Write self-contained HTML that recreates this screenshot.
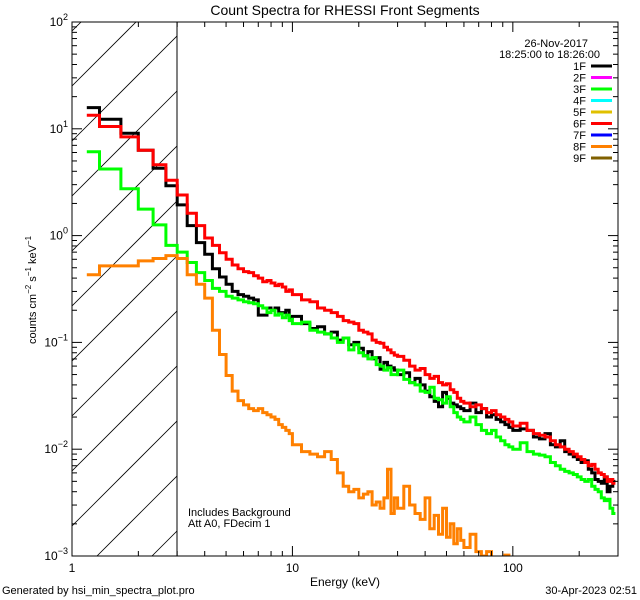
<!DOCTYPE html>
<html><head><meta charset="utf-8"><style>
body{margin:0;background:#fff;overflow:hidden;}
svg{display:block;font-family:"Liberation Sans",sans-serif;}
</style></head><body>
<svg id="chart" width="640" height="600" viewBox="0 0 640 600">
<defs><clipPath id="pc"><rect x="72" y="22" width="546" height="534"/></clipPath></defs>
<rect width="640" height="600" fill="#fff"/>
<text x="345" y="15" text-anchor="middle" font-size="14">Count Spectra for RHESSI Front Segments</text>
<g id="hatch" clip-path="url(#pc)"></g>
<line x1="177" y1="22" x2="177" y2="556" stroke="#000" stroke-width="1"/>
<g id="series" clip-path="url(#pc)"></g>
<g id="axes"></g>
<text x="588" y="47" text-anchor="end" font-size="11">26-Nov-2017</text>
<text x="600" y="58" text-anchor="end" font-size="11">18:25:00 to 18:26:00</text>
<g id="legend"></g>
<text x="188" y="516" font-size="11">Includes Background</text>
<text x="188" y="527" font-size="11">Att A0, FDecim 1</text>
<text x="345" y="586" text-anchor="middle" font-size="12">Energy (keV)</text>
<text transform="translate(36,290) rotate(-90)" text-anchor="middle" font-size="11">counts cm<tspan font-size="8" dy="-5">−2</tspan><tspan dy="5"> s</tspan><tspan font-size="8" dy="-5">−1</tspan><tspan dy="5"> keV</tspan><tspan font-size="8" dy="-5">−1</tspan></text>
<text x="2" y="594" font-size="11">Generated by hsi_min_spectra_plot.pro</text>
<text x="637" y="594" text-anchor="end" font-size="11">30-Apr-2023 02:51</text>
</svg>
<script>
const binSegments = [[1.1667,1.3333,0.1667],[1.3333,10,0.3333],[10,30,1],[30,60,2],[60,100,4],[100,300,8]];
const seriesNames = ["1F","2F","3F","4F","5F","6F","7F","8F","9F"];
const seriesColors = ["#000000","#ff00ff","#00ff00","#00ffff","#e0c000","#ff0000","#0000ff","#ff8000","#806000"];
const yTickLabels = ["-3","-2","-1","0","1","2"];
const xTickLabels = ["1","10","100"];
const counts1F = [15.8,12.3,9.1,6.3,4.27,2.93,1.94,1.24,0.86,0.67,0.49,0.41,0.35,0.30,0.28,
0.27,0.26,0.25,0.18,0.18,0.21,0.2,0.21,0.19,0.19,0.2,0.17,
0.17,0.175,0.15,0.135,0.14,0.12,0.125,0.105,0.11,0.095,0.1,0.088,0.075,0.082,0.07,0.072,0.056,0.065,0.06,0.058,
0.055,0.05,0.052,0.042,0.046,0.04,0.035,0.031,0.028,0.025,0.034,0.03,0.027,0.026,0.025,
0.024,0.023,0.027,0.022,0.024,0.02,0.021,0.019,0.018,0.017,
0.016,0.015,0.0155,0.015,0.013,0.0125,0.014,0.011,0.0105,0.012,0.0095,0.009,0.0085,0.008,0.0075,0.0078,0.0065,0.006,0.0052,0.005,0.0048,0.0055,0.004,0.0045,0.005];
const counts6F = [13.4,10.5,8.4,6.3,4.6,3.3,2.4,1.62,1.24,0.95,0.81,0.69,0.6,0.53,0.49,
0.46,0.45,0.42,0.4,0.37,0.38,0.36,0.34,0.35,0.33,0.3,0.31,
0.3,0.28,0.25,0.24,0.21,0.2,0.19,0.175,0.16,0.155,0.15,0.13,0.125,0.12,0.105,0.1,0.098,0.09,0.085,0.08,
0.076,0.074,0.068,0.06,0.055,0.057,0.05,0.046,0.048,0.042,0.04,0.041,0.036,0.034,0.03,
0.028,0.027,0.025,0.026,0.024,0.022,0.023,0.021,0.02,0.019,
0.018,0.0165,0.0175,0.015,0.014,0.0135,0.013,0.012,0.011,0.0105,0.01,0.0095,0.009,0.0085,0.008,0.0075,0.007,0.0072,0.0065,0.006,0.0058,0.0055,0.005,0.0052,0.0048];
const counts3F = [6.1,4.2,2.75,1.77,1.26,0.81,0.70,0.56,0.45,0.38,0.32,0.30,0.27,0.26,0.25,
0.24,0.235,0.23,0.22,0.21,0.19,0.2,0.18,0.185,0.17,0.18,0.16,
0.17,0.15,0.155,0.13,0.125,0.12,0.11,0.1,0.11,0.085,0.095,0.08,0.075,0.07,0.072,0.062,0.06,0.055,0.058,0.05,
0.05,0.055,0.045,0.042,0.04,0.035,0.034,0.038,0.03,0.029,0.027,0.031,0.025,0.022,0.02,
0.019,0.018,0.02,0.017,0.015,0.014,0.015,0.013,0.012,0.011,
0.0105,0.01,0.0115,0.0095,0.009,0.0088,0.0085,0.0075,0.007,0.0065,0.0062,0.006,0.0058,0.0055,0.0052,0.005,0.0052,0.0045,0.0042,0.004,0.0035,0.0033,0.0034,0.0028,0.0025];
const counts8F = [0.43,0.52,0.52,0.58,0.61,0.65,0.61,0.43,0.35,0.26,0.13,0.077,0.049,0.035,0.0285,
0.026,0.024,0.023,0.024,0.022,0.021,0.02,0.019,0.017,0.016,0.015,0.014,
0.012,0.011,0.0095,0.009,0.0085,0.0095,0.008,0.006,0.0045,0.004,0.0042,0.0035,0.0038,0.004,0.003,0.0032,0.0028,0.0035,0.0065,0.0025,
0.0035,0.0028,0.0045,0.003,0.0025,0.0022,0.0035,0.0018,0.0024,0.0016,0.0028,0.0015,0.002,0.0013,0.0018,
0.0014,0.0012,0.0016,0.0011,0.001,0.0011,0.0009,0.0008,0.0007,0.00102,
0.0005,0.0005,0.0005,0.0005,0.0005,0.0005,0.0005,0.0005,0.0005,0.0005,0.0005,0.0005,0.0005,0.0005,0.0005,0.0005,0.0005,0.0005,0.0005,0.0005,0.0005,0.0005,0.0005,0.0005,0.0005];

const NS="http://www.w3.org/2000/svg";
const X0=72,X1=618,Y0=22,Y1=556;
const xMin=1,xMax=300,yMinExp=-3,yMaxExp=2;
function xs(e){return X0+(Math.log10(e)-Math.log10(xMin))/(Math.log10(xMax)-Math.log10(xMin))*(X1-X0);}
function ys(v){return Y1-(Math.log10(v)-yMinExp)/(yMaxExp-yMinExp)*(Y1-Y0);}
function mk(tag,attrs,parent){const el=document.createElementNS(NS,tag);for(const k in attrs)el.setAttribute(k,attrs[k]);parent.appendChild(el);return el;}

const edges=[];
binSegments.forEach(s=>{for(let e=s[0];e<s[1]-1e-6;e+=s[2])edges.push([e,Math.min(e+s[2],s[1])]);});

const hatch=document.getElementById('hatch');
for(let k=-4;k<10;k++){
  const b=196+k*55;
  const l=mk('line',{x1:X0,y1:b,x2:X0+400,y2:b-400,stroke:'#000','stroke-width':0.8},hatch);
  
  
}
mk('rect',{x:177,y:0,width:500,height:600,fill:'#fff'},hatch);

const sg=document.getElementById('series');
const plotted=[[counts1F,0],[counts3F,2],[counts6F,5],[counts8F,7]];
plotted.forEach(([arr,ci])=>{
  let d='';
  arr.forEach((v,i)=>{
    const e=edges[i]; if(!e)return;
    const y=ys(v).toFixed(1);
    d+=(i===0?'M':'L')+xs(e[0]).toFixed(1)+','+y+'L'+xs(e[1]).toFixed(1)+','+y;
  });
  const p=mk('path',{d:d,fill:'none',stroke:seriesColors[ci],'stroke-width':3,'stroke-linejoin':'miter'},sg);
  
  
});

const ax=document.getElementById('axes');
const frame=mk('rect',{x:X0,y:Y0,width:X1-X0,height:Y1-Y0,fill:'none',stroke:'#000','stroke-width':1},ax);


for(let ex=yMinExp;ex<=yMaxExp;ex++){
  for(let m=1;m<=9;m++){
    if(ex===yMaxExp&&m>1)break;
    const y=ys(m*Math.pow(10,ex));
    const len=m===1?10:5;
    mk('line',{x1:X0,y1:y,x2:X0+len,y2:y,stroke:'#000'},ax);
    mk('line',{x1:X1,y1:y,x2:X1-len,y2:y,stroke:'#000'},ax);
  }
}
yTickLabels.forEach((lab,i)=>{
  const y=ys(Math.pow(10,yMinExp+i));
  const t=mk('text',{x:X0-4,y:y+4,'text-anchor':'end','font-size':12},ax);
  
  
  t.textContent='10';
  const s=mk('tspan',{'font-size':9,dy:-6},t); s.textContent=lab.replace('-','−');
});
for(let ex=0;ex<=2;ex++){
  for(let m=1;m<=9;m++){
    const e=m*Math.pow(10,ex); if(e>xMax)break;
    const x=xs(e); const len=m===1?10:5;
    mk('line',{x1:x,y1:Y1,x2:x,y2:Y1-len,stroke:'#000'},ax);
    mk('line',{x1:x,y1:Y0,x2:x,y2:Y0+len,stroke:'#000'},ax);
  }
}
xTickLabels.forEach(lab=>{
  const t=mk('text',{x:xs(parseFloat(lab)),y:572,'text-anchor':'middle','font-size':12},ax);
  
  
  t.textContent=lab;
});

const lg=document.getElementById('legend');
seriesNames.forEach((n,i)=>{
  const y=66+i*11.5;
  const g=mk('g',{},lg);
  
  
  const t=mk('text',{x:586,y:y+4,'text-anchor':'end','font-size':11},g); t.textContent=n;
  mk('line',{x1:591,y1:y,x2:612,y2:y,stroke:seriesColors[i],'stroke-width':3},g);
});
</script>
</body></html>
